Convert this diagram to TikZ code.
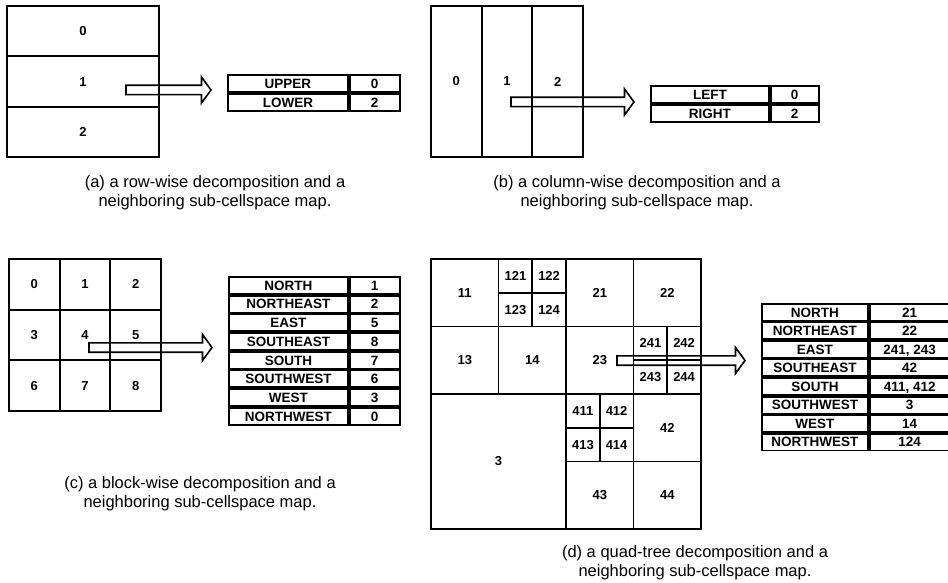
\documentclass[tikz,border=0pt]{standalone}
\usepackage{fontspec}
\setmainfont{Liberation Sans}
\usetikzlibrary{matrix, positioning}

\begin{document}
\begin{tikzpicture}[
  x=1pt, y=-1pt,
  cell/.style={draw, line width=1.8pt, outer sep=0pt, inner sep=0pt, font=\fontsize{13}{15}\selectfont\bfseries},
  qcell/.style={cell, minimum size=67.5pt},
  scell/.style={cell, minimum size=33.75pt},
  maptab/.style={matrix of nodes, inner sep=0pt, outer sep=0pt, anchor=north west, column sep=0pt, row sep=0pt,
    nodes={draw, line width=1.8pt, outer sep=0pt, inner sep=0pt, minimum height=17pt, text height=9.7pt, text depth=0pt, font=\fontsize{13.5}{15}\selectfont\bfseries}},
  capt/.style={align=center, font=\fontsize{16.5}{19}\selectfont},
  fatline/.style={draw, line width=1.6pt, line join=miter},
  pics/fatarrow/.style={code={
    \path[fatline] (0,-4.7) -- ({#1-9.5},-4.7) -- ({#1-9.5},-13) -- (#1,0)
      -- ({#1-9.5},13) -- ({#1-9.5},4.7) -- (0,4.7) -- cycle;}}
]
\useasboundingbox (0,0) rectangle (948,583);

% (a) row-wise
\node[cell, minimum width=152pt, minimum height=50.33pt] (a0) at (83,31.2) {0};
\node[cell, minimum width=152pt, minimum height=50.33pt, below=0pt of a0] (a1) {1};
\node[cell, minimum width=152pt, minimum height=50.33pt, below=0pt of a1] (a2) {2};
\matrix[maptab, column 1/.style={nodes={minimum width=120pt}}, column 2/.style={nodes={minimum width=50pt}}] (ta) at (227,74) {
  UPPER & 0 \\
  LOWER & 2 \\
};
\coordinate (atail) at (126,90);
\pic at (atail) {fatarrow=85};
\node[capt] (capa) at (215,193) {(a) a row-wise decomposition and a\\neighboring sub-cellspace map.};

% (b) column-wise
\node[cell, minimum width=50.67pt, minimum height=151pt] (b0) at (456.33,81.5) {0};
\node[cell, minimum width=50.67pt, minimum height=151pt, right=0pt of b0] (b1) {1};
\node[cell, minimum width=50.67pt, minimum height=151pt, right=0pt of b1] (b2) {2};
\matrix[maptab, column 1/.style={nodes={minimum width=118pt}}, column 2/.style={nodes={minimum width=48pt}}] (tb) at (650,85) {
  LEFT & 0 \\
  RIGHT & 2 \\
};
\coordinate (btail) at (511,102);
\pic at (btail) {fatarrow=123};
\node[capt] (capb) at (637,193) {(b) a column-wise decomposition and a\\neighboring sub-cellspace map.};

% (c) block-wise
\node[cell, minimum size=50.67pt] (c0) at (34.33,284.33) {0};
\node[cell, minimum size=50.67pt, right=0pt of c0] (c1) {1};
\node[cell, minimum size=50.67pt, right=0pt of c1] (c2) {2};
\node[cell, minimum size=50.67pt, below=0pt of c0] (c3) {3};
\node[cell, minimum size=50.67pt, right=0pt of c3] (c4) {4};
\node[cell, minimum size=50.67pt, right=0pt of c4] (c5) {5};
\node[cell, minimum size=50.67pt, below=0pt of c3] (c6) {6};
\node[cell, minimum size=50.67pt, right=0pt of c6] (c7) {7};
\node[cell, minimum size=50.67pt, right=0pt of c7] (c8) {8};
\matrix[maptab, column 1/.style={nodes={minimum width=119pt}}, column 2/.style={nodes={minimum width=50pt}}, nodes={minimum height=16.9pt}] (tc) at (228,276) {
  NORTH & 1 \\
  NORTHEAST & 2 \\
  EAST & 5 \\
  SOUTHEAST & 8 \\
  SOUTH & 7 \\
  SOUTHWEST & 6 \\
  WEST & 3 \\
  NORTHWEST & 0 \\
};
\coordinate (ctail) at (89,347.5);
\pic at (ctail) {fatarrow=123};
\node[capt] (capc) at (200,493.5) {(c) a block-wise decomposition and a\\neighboring sub-cellspace map.};

% (d) quad-tree
\node[qcell] (d11) at (464.75,292.75) {11};
\node[qcell] (d13) at (464.75,360.25) {13};
\node[qcell] (d14) at (532.25,360.25) {14};
\node[qcell] (d21) at (599.75,292.75) {21};
\node[qcell] (d22) at (667.25,292.75) {22};
\node[qcell] (d23) at (599.75,360.25) {23};
\node[cell, minimum size=135pt] (d3) at (498.5,461.5) {3};
\node[qcell] (d42) at (667.25,427.75) {42};
\node[qcell] (d43) at (599.75,495.25) {43};
\node[qcell] (d44) at (667.25,495.25) {44};
\foreach \n/\x/\y in {121/515.4/275.9, 122/549.1/275.9, 123/515.4/309.6, 124/549.1/309.6,
                      241/650.4/343.4, 242/684.1/343.4, 243/650.4/377.1, 244/684.1/377.1,
                      411/582.9/410.9, 412/616.6/410.9, 413/582.9/444.6, 414/616.6/444.6}
  \node[scell] (d\n) at (\x,\y) {\n};
\matrix[maptab, column 1/.style={nodes={minimum width=106pt}}, column 2/.style={nodes={minimum width=80pt}}, nodes={minimum height=16.75pt}] (td) at (761,303) {
  NORTH & 21 \\
  NORTHEAST & 22 \\
  EAST & {241, 243} \\
  SOUTHEAST & 42 \\
  SOUTH & {411, 412} \\
  SOUTHWEST & 3 \\
  WEST & 14 \\
  NORTHWEST & 124 \\
};
\coordinate (dtail) at (617,360.5);
\pic at (dtail) {fatarrow=128};
\node[capt] (capd) at (695,562.5) {(d) a quad-tree decomposition and a\\neighboring sub-cellspace map.};

\end{tikzpicture}
\end{document}
